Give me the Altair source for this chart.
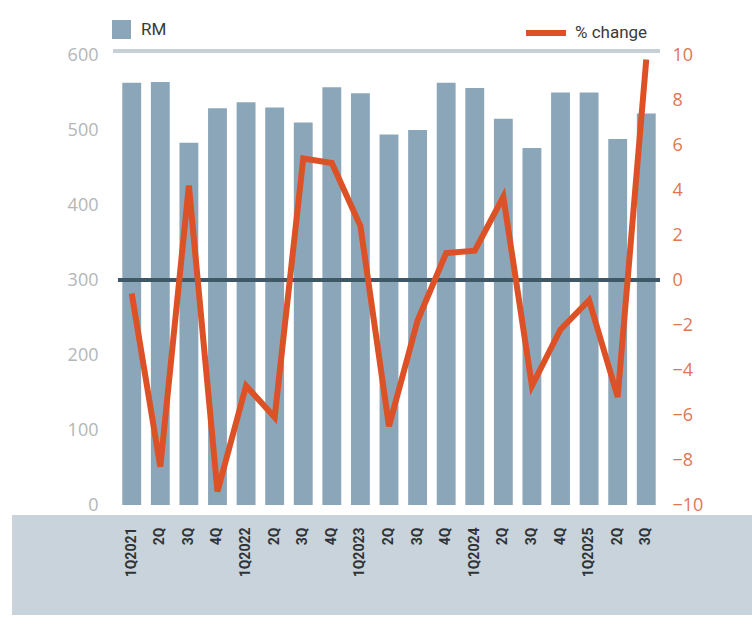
import altair as alt
import pandas as pd

# Quarterly figures: RM (bars, left axis) and % change (line, right axis)
quarters = [
    "1Q2021", "2Q2021", "3Q2021", "4Q2021",
    "1Q2022", "2Q2022", "3Q2022", "4Q2022",
    "1Q2023", "2Q2023", "3Q2023", "4Q2023",
    "1Q2024", "2Q2024", "3Q2024", "4Q2024",
    "1Q2025", "2Q2025", "3Q2025",
]
tick_labels = [
    "1Q2021", "2Q", "3Q", "4Q",
    "1Q2022", "2Q", "3Q", "4Q",
    "1Q2023", "2Q", "3Q", "4Q",
    "1Q2024", "2Q", "3Q", "4Q",
    "1Q2025", "2Q", "3Q",
]
rm_values = [563, 564, 483, 529, 537, 530, 510, 557, 549, 494,
             500, 563, 556, 515, 476, 550, 550, 488, 522]
pct_change = [-0.6, -8.3, 4.2, -9.4, -4.7, -6.1, 5.4, 5.2, 2.4, -6.5,
              -1.8, 1.2, 1.3, 3.7, -4.7, -2.2, -0.9, -5.2, 9.8]

BAR = "#8ca6b9"
LINE = "#dc5226"
ZERO = "#3e5868"
BAND = "#c8d3db"
RULE = "#c6d0d7"

df = pd.DataFrame({
    "quarter": quarters,
    "label": tick_labels,
    "rm": rm_values,
    "pct": pct_change,
})

W, H = 542, 450

label_map = "{" + ",".join(f"'{q}':'{t}'" for q, t in zip(quarters, tick_labels)) + "}"

x_enc = alt.X(
    "quarter:N",
    sort=quarters,
    scale=alt.Scale(paddingInner=0.34, paddingOuter=0.15),
    axis=alt.Axis(
        title=None, labelAngle=-90, labelAlign="right", labelBaseline="middle",
        labelPadding=22, labelFontSize=14, labelFont="Roboto", labelFontWeight="bold",
        labelColor="#2f3336", ticks=False, domain=False, zindex=2,
        labelExpr=f"{label_map}[datum.value]",
    ),
)

base = alt.Chart(df)

# label band under the x axis
band = base.mark_rect(color=BAND, clip=False).encode(
    x=alt.value(-106), x2=alt.value(W + 92), y=alt.value(H + 10), y2=alt.value(H + 110)
)

# separator rule under the legend
top_rule = base.mark_rule(color=RULE, strokeWidth=4, clip=False).encode(
    x=alt.value(-5), x2=alt.value(W), y=alt.value(-4)
)

bars = base.transform_calculate(series="'RM'").mark_bar(color=BAR).encode(
    x=x_enc,
    y=alt.Y(
        "rm:Q",
        scale=alt.Scale(domain=[0, 600], nice=False),
        axis=alt.Axis(
            title=None, values=list(range(0, 601, 100)), grid=False, domain=False,
            ticks=False, labelFontSize=18, labelFont="Open Sans", labelColor="#b3b6b8",
            labelPadding=20,
        ),
    ),
    color=alt.Color(
        "series:N",
        scale=alt.Scale(domain=["RM"], range=[BAR]),
        legend=alt.Legend(
            title=None, orient="none", legendX=-6, legendY=-35,
            symbolType="square", symbolSize=360, symbolStrokeWidth=0,
            labelFontSize=17, labelFont="Roboto", labelColor="#3a3a3a", labelOffset=10,
        ),
    ),
)

zero_rule = base.mark_rule(color=ZERO, strokeWidth=3).encode(y=alt.datum(0))

line = base.transform_calculate(series="'% change'").mark_line(
    strokeWidth=6, strokeJoin="miter", clip=False
).encode(
    x=x_enc,
    y=alt.Y(
        "pct:Q",
        scale=alt.Scale(domain=[-10, 10], nice=False),
        axis=alt.Axis(
            title=None, orient="right", values=list(range(-10, 11, 2)), grid=False,
            domain=False, ticks=False, labelFontSize=18, labelFont="Open Sans",
            labelColor="#e07652", labelPadding=12,
        ),
    ),
    stroke=alt.Stroke(
        "series:N",
        scale=alt.Scale(domain=["% change"], range=[LINE]),
        legend=alt.Legend(
            title=None, orient="none", legendX=405, legendY=-45,
            symbolType="stroke", symbolSize=1600, symbolStrokeWidth=6,
            labelFontSize=17, labelFont="Roboto", labelColor="#3a3a3a", labelOffset=6,
        ),
    ),
)

right_layer = alt.layer(zero_rule, line)

chart = alt.layer(band, top_rule, bars, right_layer).resolve_scale(
    y="independent", color="independent", stroke="independent"
).properties(
    width=W, height=H,
    background="white",
    autosize=alt.AutoSizeParams(type="none"),
    padding={"left": 118, "top": 55, "right": 92, "bottom": 119},
).configure_view(strokeWidth=0, stroke="transparent")

chart.save("out.html", embed_options={"renderer": "svg", "actions": False})
